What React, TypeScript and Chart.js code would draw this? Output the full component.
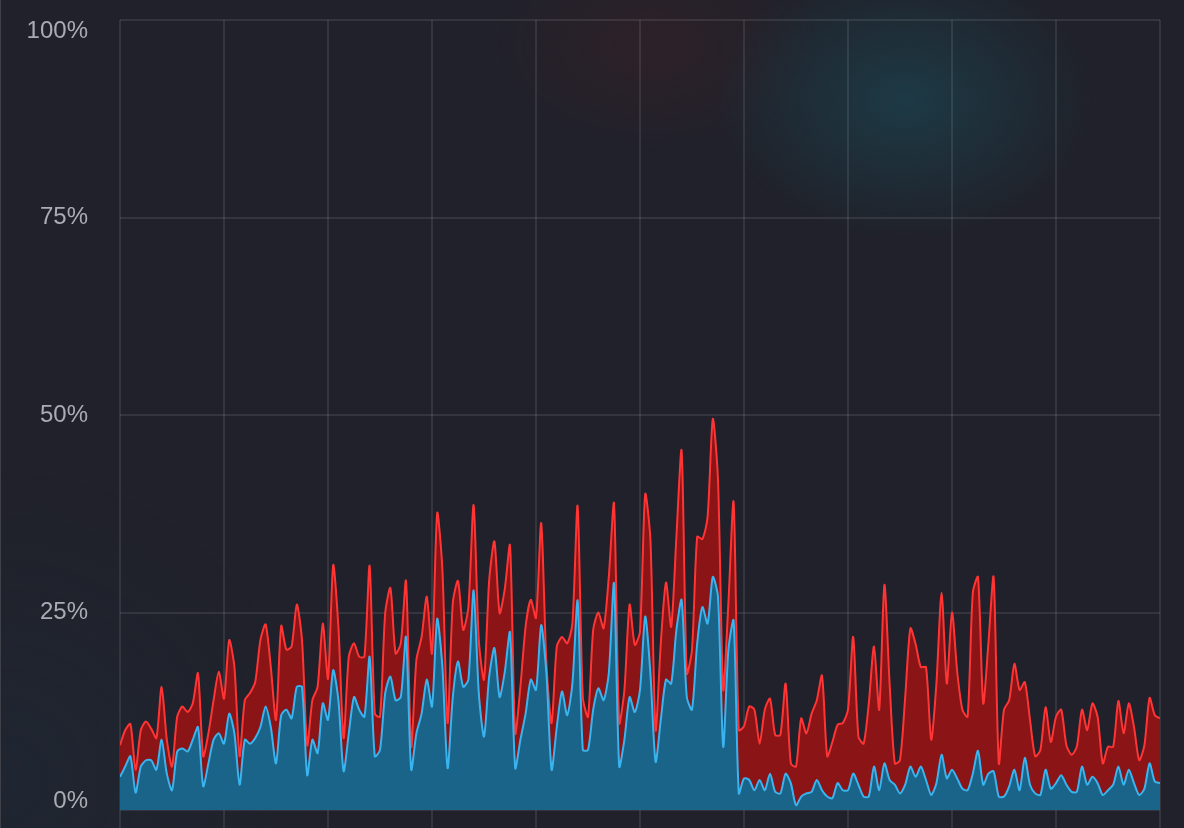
import React, { useEffect, useRef } from "react";
import { Chart, registerables } from "chart.js";

Chart.register(...registerables);

// Upper (red) series, percent
const redValues: number[] = [
  8.2, 10.1, 10.9, 5.1, 10.1, 11.2, 10.3, 9.1, 15.6, 8.9,
  5.5, 11.8, 13.1, 12.4, 13.5, 17.3, 6.8, 9.7, 13.9, 17.5,
  14.1, 21.5, 18.1, 6.8, 13.9, 14.8, 16.2, 21.5, 23.5, 18.1,
  11.4, 23.3, 20.3, 20.7, 26.0, 21.5, 8.2, 13.9, 15.6, 23.6,
  16.6, 31.0, 23.2, 9.1, 19.4, 21.1, 19.4, 19.4, 30.9, 12.2,
  11.8, 24.9, 28.1, 19.8, 21.1, 29.0, 8.0, 19.0, 21.9, 27.0,
  19.8, 37.6, 30.4, 11.0, 26.2, 29.0, 22.8, 25.7, 38.6, 21.5,
  16.5, 29.1, 34.0, 24.9, 28.0, 33.5, 9.7, 15.6, 23.2, 26.6,
  24.3, 36.3, 18.6, 11.0, 20.7, 21.9, 21.1, 23.6, 38.5, 14.3,
  11.8, 22.8, 25.0, 23.0, 29.5, 38.8, 11.0, 15.2, 26.0, 20.9,
  22.6, 40.0, 34.2, 10.1, 21.1, 28.8, 23.2, 34.6, 45.5, 17.3,
  20.3, 34.6, 34.3, 37.1, 49.5, 41.8, 15.2, 26.2, 39.0, 10.1,
  10.6, 13.1, 12.7, 8.4, 12.7, 14.1, 9.5, 9.5, 16.0, 5.9,
  5.5, 11.6, 9.7, 12.2, 13.9, 17.0, 6.8, 8.6, 10.8, 11.0,
  12.7, 21.9, 9.3, 8.4, 13.5, 20.7, 12.7, 28.5, 16.0, 5.9,
  6.3, 14.3, 23.0, 21.0, 18.1, 18.1, 8.9, 16.0, 27.5, 16.0,
  25.0, 17.5, 12.7, 11.8, 27.5, 29.5, 13.5, 21.1, 29.5, 5.9,
  12.7, 13.9, 18.5, 15.2, 16.2, 11.4, 6.8, 7.6, 13.0, 8.6,
  11.8, 12.7, 8.2, 7.0, 8.0, 12.7, 10.1, 13.5, 11.8, 5.9,
  8.0, 8.0, 13.8, 9.7, 13.5, 10.5, 6.3, 8.2, 14.2, 12.0,
  11.6,
];

// Lower (blue) series, percent
const blueValues: number[] = [
  4.2, 5.5, 6.8, 2.2, 5.5, 6.3, 6.3, 5.1, 8.9, 4.6,
  2.5, 7.4, 7.8, 7.4, 8.9, 10.5, 3.0, 5.9, 8.9, 9.7,
  8.4, 12.2, 9.7, 3.2, 8.9, 8.4, 9.1, 10.5, 13.1, 10.5,
  5.9, 12.0, 12.7, 11.6, 15.6, 15.6, 4.4, 8.9, 7.2, 13.5,
  11.4, 17.7, 13.9, 4.9, 9.7, 14.3, 12.7, 11.8, 19.4, 6.8,
  7.6, 14.8, 16.9, 13.9, 14.3, 21.9, 5.1, 9.7, 12.2, 16.5,
  13.1, 24.2, 18.1, 5.3, 14.3, 18.8, 15.6, 16.5, 27.8, 14.8,
  9.3, 16.9, 20.5, 14.3, 17.5, 22.5, 5.3, 8.9, 12.2, 16.5,
  15.2, 23.4, 17.3, 5.1, 10.5, 15.0, 12.0, 16.0, 26.5, 7.6,
  7.6, 12.7, 15.4, 13.9, 17.3, 28.7, 5.5, 8.9, 14.3, 12.4,
  15.2, 24.5, 17.3, 6.1, 11.4, 16.5, 16.0, 22.8, 26.6, 14.3,
  12.7, 21.1, 25.7, 23.6, 29.5, 27.0, 8.0, 20.3, 24.0, 2.1,
  4.0, 3.8, 2.5, 3.8, 2.5, 4.6, 2.3, 2.1, 4.6, 3.4,
  0.6, 1.7, 2.1, 2.3, 3.8, 2.5, 1.7, 1.5, 3.4, 2.5,
  2.5, 4.6, 3.2, 1.7, 1.7, 5.5, 2.5, 5.9, 3.8, 3.2,
  2.1, 3.2, 5.5, 4.2, 5.5, 3.8, 1.9, 3.4, 7.0, 4.0,
  5.1, 4.0, 2.7, 2.5, 4.6, 7.5, 3.2, 4.6, 4.9, 1.7,
  1.7, 3.0, 5.1, 2.5, 6.6, 3.2, 2.1, 1.9, 5.1, 2.7,
  3.4, 4.4, 3.2, 2.3, 2.3, 5.5, 3.2, 4.2, 3.4, 1.9,
  2.5, 3.2, 5.5, 3.2, 5.1, 3.4, 1.9, 2.7, 5.9, 3.6,
  3.4,
];

const yTickValues: number[] = [0, 25, 50, 75, 100];
const xGridSections = 10;

export default function App() {
  const canvasRef = useRef<HTMLCanvasElement | null>(null);

  useEffect(() => {
    const canvas = canvasRef.current;
    if (!canvas) return;
    const labels = redValues.map((_, i) => i);
    const lastIndex = redValues.length - 1;

    const yLabelPlugin = {
      id: "yLabelPlugin",
      afterDraw(chart: any) {
        const { ctx, chartArea, scales } = chart;
        ctx.save();
        ctx.font = '24px "Liberation Sans", Arial, sans-serif';
        ctx.fillStyle = "#abacb3";
        ctx.textAlign = "right";
        ctx.textBaseline = "middle";
        yTickValues.forEach((v) => {
          let y = scales.y.getPixelForValue(v);
          y = Math.min(Math.max(y, chartArea.top + 11), chartArea.bottom - 9);
          ctx.fillText(v + "%", chartArea.left - 32, y);
        });
        ctx.restore();
      },
    };

    const gridColor = "rgba(255,255,255,0.09)";

    const chart = new Chart(canvas, {
      type: "line",
      data: {
        labels,
        datasets: [
          {
            data: blueValues,
            borderColor: "#3ab4ef",
            backgroundColor: "#1a6489",
            fill: "origin",
            borderWidth: 2,
            pointRadius: 0,
            tension: 0.25,
          },
          {
            data: redValues,
            borderColor: "#ff3535",
            backgroundColor: "#8a1416",
            fill: "origin",
            borderWidth: 2,
            pointRadius: 0,
            tension: 0.25,
          },
        ],
      },
      options: {
        animation: false,
        responsive: false,
        layout: { padding: { left: 120, top: 20, right: 24, bottom: 0 } },
        plugins: {
          legend: { display: false },
          tooltip: { enabled: false },
        },
        scales: {
          x: {
            type: "linear",
            min: 0,
            max: lastIndex,
            ticks: { display: false, stepSize: lastIndex / xGridSections },
            grid: { color: gridColor, lineWidth: 2, tickLength: 18 },
            border: { display: false },
          },
          y: {
            min: 0,
            max: 100,
            ticks: { display: false, stepSize: 25 },
            grid: { color: gridColor, lineWidth: 2, drawTicks: false },
            border: { display: false },
          },
        },
      },
      plugins: [yLabelPlugin],
    });

    return () => chart.destroy();
  }, []);

  return (
    <div
      style={{
        position: "fixed",
        left: 0,
        top: 0,
        width: 1184,
        height: 828,
        overflow: "hidden",
        boxSizing: "border-box",
        borderLeft: "1px solid rgba(255,255,255,0.14)",
        background:
          "radial-gradient(ellipse 190px 140px at 905px 100px, rgba(28,64,76,0.8), rgba(28,64,76,0) 100%)," +
          "radial-gradient(ellipse 170px 110px at 650px 45px, rgba(62,32,38,0.45), rgba(62,32,38,0) 100%)," +
          "radial-gradient(ellipse 320px 320px at 0px 780px, rgba(30,46,62,0.35), rgba(30,46,62,0) 100%)," +
          "#20212a",
      }}
    >
      <canvas
        ref={canvasRef}
        width={1184}
        height={828}
        style={{ display: "block", position: "absolute", left: -1, top: 0 }}
      />
    </div>
  );
}
